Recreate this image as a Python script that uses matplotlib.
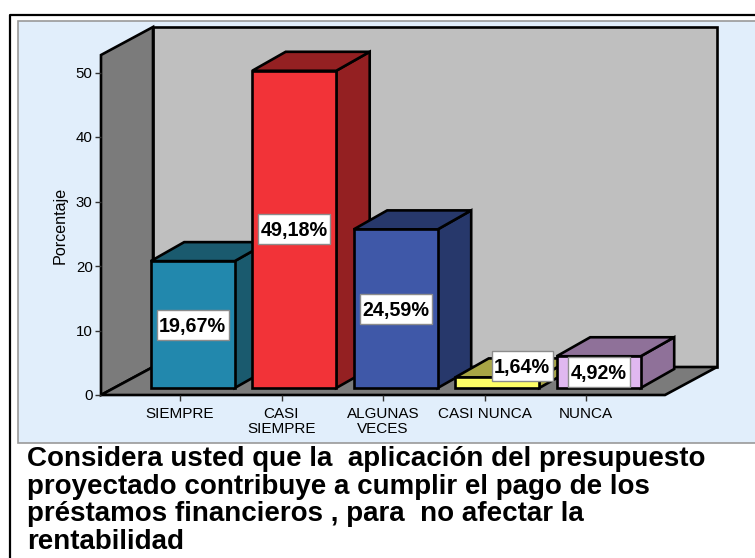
import matplotlib
matplotlib.use('Agg')
import matplotlib.pyplot as plt
from matplotlib.patches import Rectangle
from matplotlib.lines import Line2D

categories = ['SIEMPRE', 'CASI\nSIEMPRE', 'ALGUNAS\nVECES', 'CASI NUNCA', 'NUNCA']
values = [19.67, 49.18, 24.59, 1.64, 4.92]
front_colors = ['#2288ad', '#f23338', '#3f58a8', '#ffff66', '#e0b8f0']
side_colors = ['#1a5a6e', '#942022', '#27386b', '#a8a545', '#8f7199']
yticks = [0, 10, 20, 30, 40, 50]
title = ('Considera usted que la  aplicación del presupuesto\n'
         'proyectado contribuye a cumplir el pago de los\n'
         'préstamos financieros , para  no afectar la\n'
         'rentabilidad')

W, H = 755, 558
PX_X = 101.5   # pixels per category
PX_Y = 6.45    # pixels per percent

plt.rcParams['font.family'] = ['Liberation Sans', 'DejaVu Sans']

fig = plt.figure(figsize=(W / 100, H / 100), dpi=100, facecolor='white')

# frame and pale blue panel, in figure pixels
fig.add_artist(Line2D([10 / W, 10 / W, 1], [0, (H - 15) / H, (H - 15) / H], color='black', lw=1.6, zorder=-2))
fig.add_artist(Rectangle((17.5 / W, (H - 443) / H), (W + 5 - 17.5) / W, 422 / H,
                         fc='#e1eefb', ec='#999999', lw=1.2, zorder=-1))

ax = fig.add_axes([101 / W, (H - 395) / H, 564 / W, 340 / H])
ax.set_xlim(-79 / PX_X, 485 / PX_X)
ax.set_ylim(0, 340 / PX_Y)
ax.patch.set_visible(False)
for s in ax.spines.values():
    s.set_visible(False)

x0, x1 = ax.get_xlim()
y0, y1 = ax.get_ylim()

# depth of the box and of the bars, in data units
wall_dx, wall_dy = 52 / PX_X, 28 / PX_Y
bar_dx, bar_dy = 33.5 / PX_X, 19 / PX_Y
off_x, off_y = 12.7 / PX_X, 7 / PX_Y
bar_w = 84 / PX_X
edge = dict(edgecolor='black', linewidth=1.9, clip_on=False, joinstyle='miter')

# back wall, left wall, floor
ax.fill([x0 + wall_dx, x1 + wall_dx, x1 + wall_dx, x0 + wall_dx],
        [wall_dy, wall_dy, y1 + wall_dy, y1 + wall_dy], facecolor='#bfbfbf', zorder=1, **edge)
ax.fill([x0, x0 + wall_dx, x0 + wall_dx, x0],
        [0, wall_dy, y1 + wall_dy, y1], facecolor='#7b7b7b', zorder=1, **edge)
ax.fill([x0, x1, x1 + wall_dx, x0 + wall_dx],
        [0, 0, wall_dy, wall_dy], facecolor='#7b7b7b', zorder=1, **edge)

# bars, left to right so the next front covers the previous side
for i, v in enumerate(values):
    z = 2 + i
    left = i + off_x - bar_w / 2
    right = left + bar_w
    top = off_y + v
    ax.fill([right, right + bar_dx, right + bar_dx, right],
            [off_y, off_y + bar_dy, top + bar_dy, top], facecolor=side_colors[i], zorder=z, **edge)
    ax.fill([left, right, right + bar_dx, left + bar_dx],
            [top, top, top + bar_dy, top + bar_dy], facecolor=side_colors[i], zorder=z, **edge)
    ax.bar(left, v, bar_w, bottom=off_y, align='edge', color=front_colors[i], zorder=z, **edge)

# value labels, the small bar has its label moved by hand (pixels)
label_shift = [(0, 0), (0, 0), (0, 0), (25, 17), (0, 0)]
box_w = [72, 72, 72, 61, 62]
box_h = 30
for i, v in enumerate(values):
    txt = f'{v:.2f}'.replace('.', ',') + '%'
    sx, sy = label_shift[i]
    cx = i + off_x + sx / PX_X
    cy = off_y + v / 2 + sy / PX_Y
    bw, bh = box_w[i] / PX_X, box_h / PX_Y
    ax.add_patch(Rectangle((cx - bw / 2, cy - bh / 2), bw, bh, fc='white', ec='#8c8c8c', lw=1,
                           zorder=20, clip_on=False))
    ax.text(cx, cy - 1.5 / PX_Y, txt, ha='center', va='center', fontsize=14.2, fontweight='bold', zorder=21)

ax.set_xticks(range(len(categories)))
ax.set_xticklabels(categories, fontsize=11, linespacing=1.08)
ax.set_yticks(yticks)
ax.tick_params(axis='y', labelsize=10.8, length=4.5, width=1, color='#333333', pad=1.5)
ax.tick_params(axis='x', length=4.5, width=1, color='#333333', pad=4)
ax.set_ylabel('Porcentaje', fontsize=11.6, labelpad=6)

fig.text(27 / W, (H - 446) / H, title, fontsize=20, fontweight='bold', va='top', ha='left',
         linespacing=1.08)

fig.savefig('out.png', dpi=100)
